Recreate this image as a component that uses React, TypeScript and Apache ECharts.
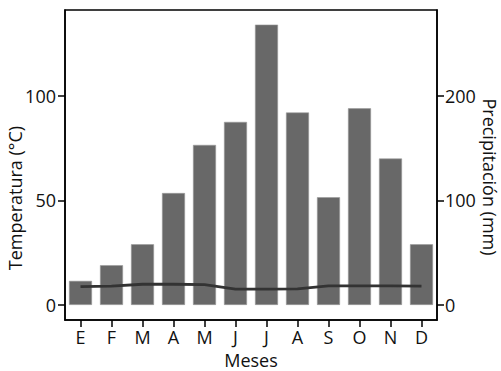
import React, { useEffect, useRef } from "react";
import * as echarts from "echarts";

const months = ["E", "F", "M", "A", "M", "J", "J", "A", "S", "O", "N", "D"];
const precipitacion = [23, 38, 58, 107, 153, 175, 268, 184, 103, 188, 140, 58];
const temperatura = [8.8, 9.0, 9.9, 9.9, 9.7, 7.6, 7.6, 7.7, 9.1, 9.1, 9.1, 9.0];
const tempTicks = [0, 50, 100];
const precTicks = [0, 100, 200];

const FONT = "Open Sans";
const FS = 18;

export default function App() {
  const ref = useRef<HTMLDivElement>(null);
  useEffect(() => {
    if (!ref.current) return;
    const chart = echarts.init(ref.current, undefined, { renderer: "svg" });
    const axisCommon = {
      axisLine: { show: true, lineStyle: { color: "#000", width: 1.5 } },
      axisTick: { show: true, length: 7, lineStyle: { color: "#000", width: 1.5 } },
      splitLine: { show: false },
    };
    chart.setOption({
      animation: false,
      backgroundColor: "#fff",
      textStyle: { fontFamily: FONT },
      grid: {
        left: 65,
        right: 64,
        top: 10,
        bottom: 51,
        show: true,
        borderColor: "#000",
        borderWidth: 1.5,
        backgroundColor: "transparent",
      },
      xAxis: {
        type: "category",
        data: months,
        boundaryGap: true,
        axisLine: { show: true, onZero: false, lineStyle: { color: "#000", width: 1.5 } },
        axisTick: { show: true, alignWithLabel: true, length: 7, lineStyle: { color: "#000", width: 1.5 } },
        axisLabel: { color: "#111", fontSize: FS, fontFamily: FONT, margin: 8, lineHeight: 18 },
      },
      yAxis: [
        {
          type: "value",
          min: -7.2,
          max: 141,
          position: "left",
          ...axisCommon,
          axisTick: { ...axisCommon.axisTick, customValues: tempTicks },
          axisLabel: { color: "#111", fontSize: FS, fontFamily: FONT, margin: 9, customValues: tempTicks },
        },
        {
          type: "value",
          min: -14.4,
          max: 282,
          position: "right",
          ...axisCommon,
          axisTick: { ...axisCommon.axisTick, customValues: precTicks },
          axisLabel: { color: "#111", fontSize: FS, fontFamily: FONT, margin: 8, customValues: precTicks },
        },
      ],
      series: [
        {
          type: "bar",
          yAxisIndex: 1,
          data: precipitacion,
          barWidth: 23,
          itemStyle: { color: "#686868", borderColor: "#9a9a9a", borderWidth: 0.6 },
        },
        {
          type: "line",
          yAxisIndex: 0,
          data: temperatura,
          symbol: "none",
          lineStyle: { color: "#333", width: 2.8 },
        },
      ],
      graphic: [
        {
          type: "text",
          x: 15,
          y: 198,
          rotation: Math.PI / 2,
          style: {
            text: "Temperatura (°C)",
            fontSize: FS,
            fontFamily: FONT,
            fill: "#111",
            align: "center",
            verticalAlign: "middle",
          },
        },
        {
          type: "text",
          x: 490,
          y: 177,
          rotation: -Math.PI / 2,
          style: {
            text: "Precipitación (mm)",
            fontSize: FS,
            fontFamily: FONT,
            fill: "#111",
            align: "center",
            verticalAlign: "middle",
          },
        },
        {
          type: "text",
          x: 251,
          y: 359.5,
          style: {
            text: "Meses",
            fontSize: FS,
            lineHeight: 17,
            fontFamily: FONT,
            fill: "#111",
            align: "center",
            verticalAlign: "middle",
          },
        },
      ],
    });
    return () => chart.dispose();
  }, []);
  return <div ref={ref} style={{ width: 501, height: 371, position: "absolute", left: 0, top: 0 }} />;
}
